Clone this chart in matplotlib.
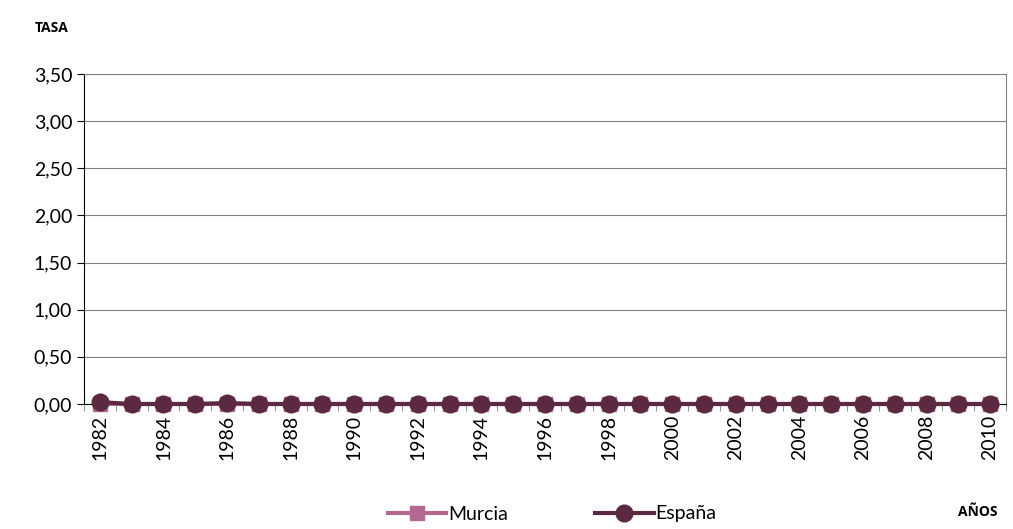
import matplotlib.pyplot as plt
import numpy as np

# datos
years = list(range(1982, 2011))
murcia = [0.0] * 29
espana = [0.02, 0.0, 0.0, 0.0, 0.01, 0.0, 0.0, 0.0, 0.0, 0.0,
          0.0, 0.0, 0.0, 0.0, 0.0, 0.0, 0.0, 0.0, 0.0, 0.0,
          0.0, 0.0, 0.0, 0.0, 0.0, 0.0, 0.0, 0.0, 0.0]
yticks = [0.0, 0.5, 1.0, 1.5, 2.0, 2.5, 3.0, 3.5]

plt.rcParams['font.family'] = ['Lato', 'DejaVu Sans']

fig = plt.figure(figsize=(10.13, 5.29), dpi=100)
ax = fig.add_axes([84 / 1013, 1 - 404 / 529, 922 / 1013, 330 / 529])

x = np.arange(len(years))
ax.plot(x, murcia, color='#B5688F', lw=3, marker='s', ms=10, label='Murcia', zorder=3, clip_on=False)
ax.plot(x, espana, color='#5B2A42', lw=3, marker='o', ms=12, label='España', zorder=4, clip_on=False)

ax.set_xlim(-0.5, len(years) - 0.5)
ax.set_ylim(0, 3.5)
ax.set_yticks(yticks)
ax.set_yticklabels([f'{v:.2f}'.replace('.', ',') for v in yticks], fontsize=14)
ax.set_xticks(x[::2])
ax.set_xticklabels([str(y) for y in years[::2]], rotation=90, fontsize=14)
ax.set_xticks(np.arange(-0.5, len(years)), minor=True)
ax.tick_params(axis='x', which='major', length=0, pad=8)
ax.tick_params(axis='x', which='minor', length=5, color='#808080')
ax.tick_params(axis='y', length=5, color='black')
ax.yaxis.grid(True, color='#808080', lw=0.8)
ax.set_axisbelow(True)

ax.spines['left'].set_color('black')
ax.spines['bottom'].set_color('black')
ax.spines['top'].set_color('#808080')
ax.spines['right'].set_color('#808080')

fig.text(35 / 1013, 1 - 28 / 529, 'TASA', fontsize=10, fontweight='bold',
         family=['Open Sans', 'DejaVu Sans'], ha='left', va='center')
fig.text(958 / 1013, 1 - 512 / 529, 'AÑOS', fontsize=10, fontweight='bold',
         family=['Open Sans', 'DejaVu Sans'], ha='left', va='center')

fig.legend(loc='center', bbox_to_anchor=(552 / 1013, 1 - 514 / 529), ncol=2, frameon=False,
           fontsize=14, handlelength=3, columnspacing=4.5, handletextpad=0.1)

fig.savefig('out.png', dpi=100)
